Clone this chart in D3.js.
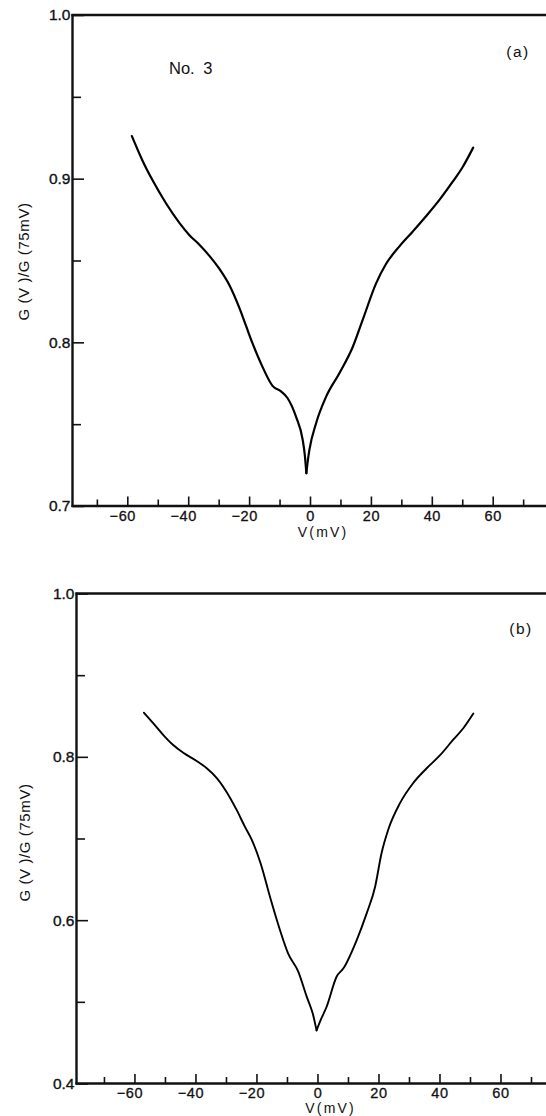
<!DOCTYPE html>
<html>
<head>
<meta charset="utf-8">
<script src="https://cdn.jsdelivr.net/npm/d3@7"></script>
<style>
  html, body { margin: 0; padding: 0; background: #fff; }
  svg { display: block; }
  text { font-family: "Liberation Sans", Arial, Helvetica, sans-serif; fill: #111; }
</style>
</head>
<body>
<svg id="chart" width="546" height="1116"></svg>
<script>
// ---- Data ----
// Panel (a): sample No. 3
const aV = [-58.5,-55.0,-51.7,-47.3,-42.9,-39.6,-36.4,-33.1,-29.8,-26.5,-23.2,-21.0,-18.9,-15.6,-12.3,-9.5,-7.4,-4.6,-2.4,-1.7,-1.2,-0.7,-0.2,2.0,5.3,9.6,14.0,17.3,21.7,25.0,29.3,33.7,38.1,42.5,46.8,50.1,53.6];
const aG = [0.926,0.911,0.899,0.885,0.873,0.8655,0.8598,0.853,0.845,0.835,0.821,0.810,0.7995,0.785,0.7734,0.770,0.766,0.7546,0.7404,0.731,0.720,0.728,0.7343,0.7506,0.7668,0.781,0.797,0.8137,0.836,0.848,0.8585,0.8676,0.877,0.887,0.898,0.907,0.919];
// Panel (b)
const bV = [-56.9,-53.8,-50.6,-47.3,-44.0,-39.6,-36.3,-33.0,-29.8,-26.5,-23.8,-21.6,-18.6,-15.6,-12.3,-9.6,-6.3,-3.5,-1.5,-0.3,1.2,3.0,6.3,8.5,12.9,16.1,18.9,21.0,23.3,27.0,31.4,35.8,40.2,44.5,47.8,51.1];
const bG = [0.854,0.841,0.827,0.8145,0.805,0.795,0.786,0.774,0.757,0.735,0.7145,0.699,0.669,0.629,0.588,0.559,0.537,0.506,0.485,0.465,0.479,0.494,0.531,0.541,0.576,0.608,0.641,0.682,0.712,0.743,0.768,0.786,0.802,0.821,0.835,0.853];

// Tick values
const xMajorTicks = [-60,-40,-20,0,20,40,60];
const xMinorTicks = [-70,-50,-30,-10,10,30,50,70];
const aYMajor = [0.7,0.8,0.9,1.0];
const aYMinor = [0.75,0.85,0.95];
const bYMajor = [0.4,0.6,0.8,1.0];
const bYMinor = [0.5,0.7,0.9];

const xLabel = "V(mV)";
const yLabel = "G (V )/G (75mV)";

const svg = d3.select("#chart");
const FONT = '"Liberation Sans", Arial, sans-serif';

function panel(opts) {
  const {V, G, xDom, xRange, yDom, yRange, yMajor, yMinor, yFmt, tag, tagPos, note, strokeW, ylabPos, xTitleOffset} = opts;
  const x = d3.scaleLinear().domain(xDom).range(xRange);
  const y = d3.scaleLinear().domain(yDom).range(yRange);
  const g = svg.append("g");
  const left = xRange[0], top = yRange[1], bottom = yRange[0], right = xRange[1];

  // minor y ticks (inward)
  g.append("g").attr("transform", `translate(${left},0)`)
    .call(d3.axisLeft(y).tickValues(yMinor).tickSize(-8.5).tickSizeOuter(0).tickFormat(""))
    .call(s => s.select(".domain").remove())
    .call(s => s.selectAll("line").attr("stroke", "#111").attr("stroke-width", 1.6));
  // major y ticks + labels
  g.append("g").attr("transform", `translate(${left},0)`)
    .call(d3.axisLeft(y).tickValues(yMajor).tickSize(-11.5).tickSizeOuter(0).tickPadding(2).tickFormat(yFmt))
    .call(s => s.select(".domain").remove())
    .call(s => s.selectAll("line").attr("stroke", "#111").attr("stroke-width", 1.6))
    .call(s => s.selectAll("text").attr("font-size", 15.5).attr("fill", "#111")
      .attr("stroke", "#111").attr("stroke-width", 0.35)
      .style("font-family", FONT));

  // minor x ticks
  g.append("g").attr("transform", `translate(0,${bottom})`)
    .call(d3.axisBottom(x).tickValues(xMinorTicks).tickSize(-6.5).tickSizeOuter(0).tickFormat(""))
    .call(s => s.select(".domain").remove())
    .call(s => s.selectAll("line").attr("stroke", "#111").attr("stroke-width", 1.6));
  // major x ticks + labels
  g.append("g").attr("transform", `translate(0,${bottom})`)
    .call(d3.axisBottom(x).tickValues(xMajorTicks).tickSize(-9.5).tickSizeOuter(0).tickPadding(0)
      .tickFormat(d => d < 0 ? "\u2212" + Math.abs(d) : String(d)))
    .call(s => s.select(".domain").remove())
    .call(s => s.selectAll("line").attr("stroke", "#111").attr("stroke-width", 1.6))
    .call(s => s.selectAll("text").attr("font-size", 14.5).attr("fill", "#111")
      .attr("stroke", "#111").attr("stroke-width", 0.3)
      .attr("letter-spacing", 0.6)
      .attr("dy", null).attr("y", 14.5)
      .attr("dx", d => d < 0 ? -5 : 0)
      .style("font-family", FONT));

  // frame lines: left, bottom, top
  g.append("line").attr("x1", left).attr("x2", left).attr("y1", top - 1).attr("y2", bottom + 1)
    .attr("stroke", "#111").attr("stroke-width", 2.4);
  g.append("line").attr("x1", left - 1).attr("x2", right).attr("y1", bottom).attr("y2", bottom)
    .attr("stroke", "#111").attr("stroke-width", 2.4);
  g.append("line").attr("x1", left - 1).attr("x2", right).attr("y1", top).attr("y2", top)
    .attr("stroke", "#111").attr("stroke-width", 2.6);

  // curve: split at minimum to keep the cusp sharp
  const pts = V.map((v, i) => [v, G[i]]);
  const iMin = d3.minIndex(G);
  const line = d3.line().x(d => x(d[0])).y(d => y(d[1])).curve(d3.curveMonotoneX);
  [pts.slice(0, iMin + 1), pts.slice(iMin)].forEach(seg => {
    g.append("path").attr("d", line(seg)).attr("fill", "none")
      .attr("stroke", "#000").attr("stroke-width", strokeW)
      .attr("stroke-linejoin", "round").attr("stroke-linecap", "round");
  });

  // axis titles
  g.append("text").attr("x", x(4.3)).attr("y", bottom + xTitleOffset)
    .attr("text-anchor", "middle").attr("font-size", 14).attr("letter-spacing", 2.2)
    .text(xLabel);
  g.append("text").attr("transform", `translate(${ylabPos[0]},${ylabPos[1]}) rotate(-90)`)
    .attr("text-anchor", "middle").attr("font-size", 15).attr("letter-spacing", 0.6)
    .text(yLabel);

  // panel tag
  g.append("text").attr("x", tagPos[0]).attr("y", tagPos[1]).attr("text-anchor", "middle")
    .attr("font-size", 15.5).attr("letter-spacing", 1.5).text(tag);
  if (note) {
    g.append("text").attr("x", note.x).attr("y", note.y).attr("font-size", 16.5)
      .attr("word-spacing", 4).text(note.text);
  }
}

panel({
  V: aV, G: aG,
  xDom: [-78, 80], xRange: [72.5, 553.6],
  yDom: [0.7, 1.0], yRange: [506, 15],
  yMajor: aYMajor, yMinor: aYMinor, yFmt: d3.format(".1f"),
  tag: "(a)", tagPos: [518, 57],
  note: {x: 169, y: 74, text: "No. 3"},
  strokeW: 2.2,
  ylabPos: [29, 261.5],
  xTitleOffset: 31
});

panel({
  V: bV, G: bG,
  xDom: [-79, 80], xRange: [76.5, 561.5],
  yDom: [0.4, 1.0], yRange: [1083.5, 593.5],
  yMajor: bYMajor, yMinor: bYMinor, yFmt: d3.format(".1f"),
  tag: "(b)", tagPos: [521, 634],
  note: null,
  strokeW: 1.9,
  ylabPos: [30, 842.5],
  xTitleOffset: 29.5
});
</script>
</body>
</html>
